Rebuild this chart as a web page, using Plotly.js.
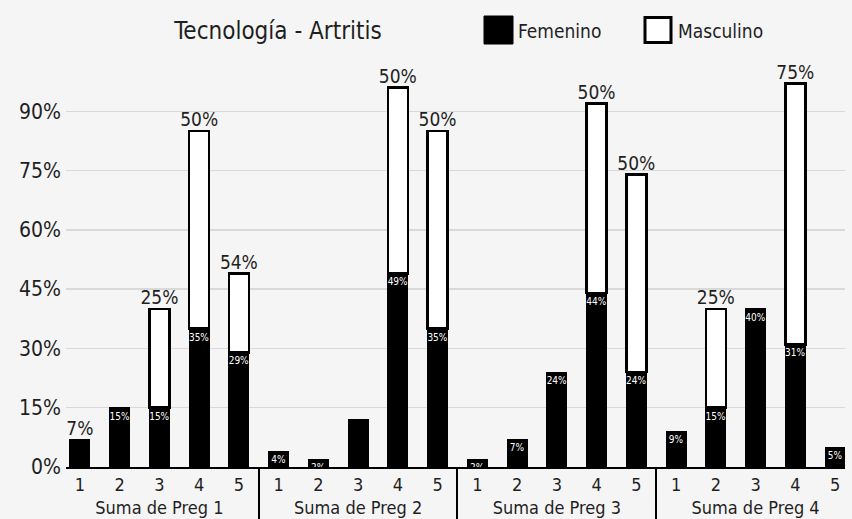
<!DOCTYPE html>
<html>
<head>
<meta charset="utf-8">
<script src="https://cdn.plot.ly/plotly-3.0.1.min.js"></script>
<style>
  html, body { margin: 0; padding: 0; background: #f5f5f5; }
  #chart { width: 852px; height: 519px; }
</style>
</head>
<body>
<div id="chart"></div>
<script>
// Question groups and answer scale
const groups = ['Suma de Preg 1', 'Suma de Preg 2', 'Suma de Preg 3', 'Suma de Preg 4'];
const answers = ['1', '2', '3', '4', '5'];

// Stacked shares (%) per group/answer, in group order
const femenino = [7, 15, 15, 35, 29,  4, 2, 12, 49, 35,  2, 7, 24, 44, 24,  9, 15, 40, 31, 5];
const masculino = [null, null, 25, 50, 20,  null, null, null, 47, 50,  null, null, null, 48, 50,  null, 25, null, 66, null];

// Labels printed inside the black segments and above each stack
const femeninoLabels = ['', '15%', '15%', '35%', '29%',  '4%', '2%', '', '49%', '35%',  '2%', '7%', '24%', '44%', '24%',  '9%', '15%', '40%', '31%', '5%'];
const topLabels = ['7%', '', '25%', '50%', '54%',  '', '', '', '50%', '50%',  '', '', '', '50%', '50%',  '', '25%', '', '75%', ''];

const yTicks = [0, 15, 30, 45, 60, 75, 90];
const yTickText = yTicks.map(v => v + '%');

// Two-level category coordinates
const xGroup = [], xAnswer = [];
groups.forEach(g => answers.forEach(a => { xGroup.push(g); xAnswer.push(a); }));
const totals = femenino.map((f, i) => f + (masculino[i] || 0));

const FONT = '"DejaVu Sans Condensed", "DejaVu Sans", sans-serif';
const INK = '#1f1f1f';

// Figure geometry (pixels)
const W = 852, H = 519;
const M = { l: 66, r: 7, t: 52, b: 52 };
const px = x => (x - M.l) / (W - M.l - M.r);
const py = y => (H - M.b - y) / (H - M.t - M.b);

const traces = [
  {
    type: 'bar', name: 'Femenino',
    x: [xGroup, xAnswer], y: femenino,
    marker: { color: '#000000', line: { color: '#000000', width: 1 } },
    text: femeninoLabels, textposition: 'inside', insidetextanchor: 'end',
    textangle: 0, constraintext: 'none',
    textfont: { family: FONT, size: 10, color: '#ffffff' },
    hoverinfo: 'y+name'
  },
  {
    type: 'bar', name: 'Masculino',
    x: [xGroup, xAnswer], y: masculino,
    marker: { color: '#ffffff', line: { color: '#000000', width: 2.5 } },
    hoverinfo: 'y+name'
  },
  {
    type: 'scatter', mode: 'text',
    x: [xGroup, xAnswer], y: totals,
    text: topLabels, textposition: 'top center',
    textfont: { family: FONT, size: 19, color: INK },
    cliponaxis: false, showlegend: false, hoverinfo: 'skip'
  }
];

const layout = {
  width: W, height: H,
  margin: M,
  paper_bgcolor: '#f5f5f5', plot_bgcolor: '#f5f5f5',
  barmode: 'stack', bargap: 0.5,
  showlegend: false,
  font: { family: FONT, color: INK },
  title: {
    text: 'Tecnología - Artritis',
    font: { family: FONT, size: 24, color: INK },
    xref: 'container', yref: 'container',
    x: 278 / W, xanchor: 'center',
    y: 1 - 31 / H, yanchor: 'middle'
  },
  xaxis: {
    type: 'multicategory',
    range: [-0.35, 19.25],
    showline: true, linecolor: '#000000', linewidth: 2,
    showgrid: false, ticks: '',
    showdividers: true, dividercolor: '#000000', dividerwidth: 2,
    tickfont: { family: FONT, size: 18, color: INK }
  },
  yaxis: {
    range: [0, 105],
    tickmode: 'array', tickvals: yTicks, ticktext: yTickText,
    showgrid: true, gridcolor: '#d9d9d9', gridwidth: 1.5,
    zeroline: false, showline: false, ticks: '',
    ticklabelstandoff: 4,
    tickfont: { family: FONT, size: 21, color: INK }
  },
  shapes: [
    { type: 'rect', xref: 'paper', yref: 'paper',
      x0: px(484), x1: px(513), y0: py(44), y1: py(16),
      fillcolor: '#000000', line: { color: '#000000', width: 1 } },
    { type: 'rect', xref: 'paper', yref: 'paper',
      x0: px(645), x1: px(671), y0: py(42.5), y1: py(17.5),
      fillcolor: '#ffffff', line: { color: '#000000', width: 3 } }
  ],
  annotations: [
    { xref: 'paper', yref: 'paper', x: px(516), y: py(31), xanchor: 'left', yanchor: 'middle',
      text: 'Femenino', showarrow: false, font: { family: FONT, size: 19, color: INK } },
    { xref: 'paper', yref: 'paper', x: px(676), y: py(31), xanchor: 'left', yanchor: 'middle',
      text: 'Masculino', showarrow: false, font: { family: FONT, size: 19, color: INK } }
  ]
};

Plotly.newPlot('chart', traces, layout, { displayModeBar: false, staticPlot: true });
</script>
</body>
</html>
